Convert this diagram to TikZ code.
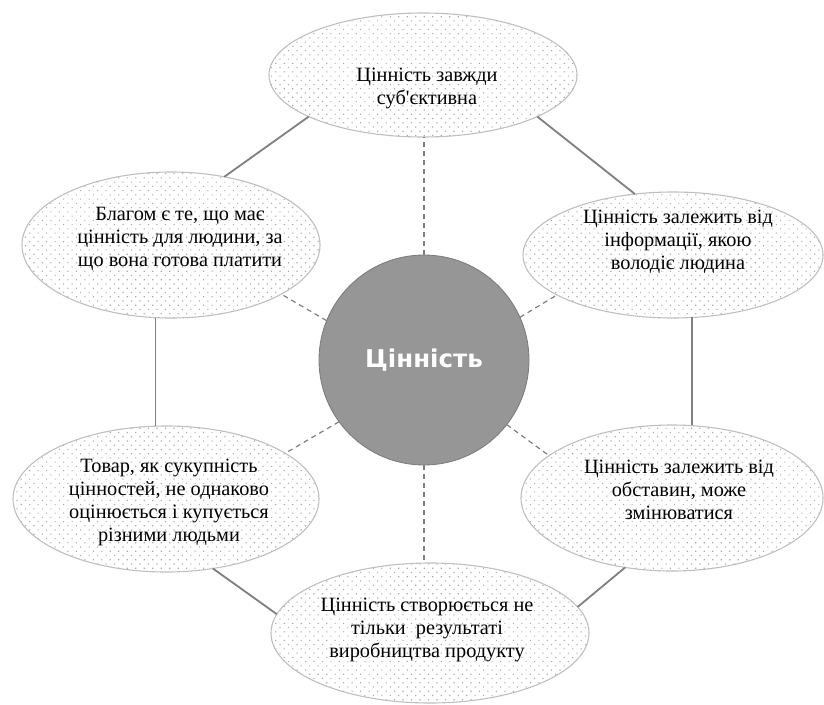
\documentclass[tikz,border=0pt]{standalone}
\usepackage{fontspec}
\setmainfont{Liberation Serif}
\newfontfamily\apos{Liberation Serif}
\newfontfamily\centerfont{DejaVu Sans}
\usetikzlibrary{shapes.geometric,patterns.meta}
\definecolor{ellborder}{HTML}{BFBFBF}
\definecolor{linegray}{HTML}{7F7F7F}
\definecolor{circfill}{HTML}{969696}
\definecolor{circborder}{HTML}{7A7A7A}
\definecolor{dotgray}{HTML}{ABABAB}
\begin{document}
\begin{tikzpicture}[x=1pt,y=-1pt,
  bubble/.style={ellipse, draw=ellborder, line width=1.1pt,
    pattern={Dots[distance=6pt,angle=45,radius=0.8pt]}, pattern color=dotgray,
    inner sep=0pt, outer sep=0pt},
  btext/.style={align=center, font=\fontsize{20.3}{23}\selectfont, text=black},
  solidlink/.style={draw=linegray, line width=1.8pt},
  dashlink/.style={draw=linegray, line width=1.2pt, dash pattern=on 5pt off 4pt},
]
\useasboundingbox (0,0) rectangle (824,704);

\node[bubble, minimum width=308pt, minimum height=124pt] (T) at (423,75) {};
\node[bubble, minimum width=298pt, minimum height=146pt] (UL) at (171,245) {};
\node[bubble, minimum width=300pt, minimum height=126pt] (UR) at (673,255) {};
\node[bubble, minimum width=306pt, minimum height=146pt] (LL) at (166,499) {};
\node[bubble, minimum width=302pt, minimum height=146pt] (LR) at (672,498) {};
\node[bubble, minimum width=318pt, minimum height=140pt] (B) at (430,633) {};

\node[circle, fill=circfill, draw=circborder, line width=0.8pt, minimum size=210pt,
  inner sep=0pt, outer sep=0pt, text=white,
  font=\centerfont\bfseries\fontsize{24.5}{28}\selectfont] (C) at (424,360) {Цінність};

\node[btext] (Tt) at (427,88) {Цінність завжди\\суб{\apos '}єктивна};
\node[btext] (ULt) at (180,239) {Благом є те, що має\\цінність для людини, за\\що вона готова платити};
\node[btext] (URt) at (678,242) {Цінність залежить від\\інформації, якою\\володіє людина};
\node[btext] (LLt) at (169,502) {Товар, як сукупність\\цінностей, не однаково\\оцінюється і купується\\різними людьми};
\node[btext] (LRt) at (679,490) {Цінність залежить від\\обставин, може\\змінюватися};
\node[btext] (Bt) at (427,630) {Цінність створюється не\\тільки~ результаті\\виробництва продукту};

\draw[solidlink] (T.200) -- (UL.52);
\draw[solidlink] (T.340) -- (UR.122);
\draw[solidlink] (UL.258) -- (UL.258 |- LL.north);
\draw[solidlink] (UR.287) -- (UR.287 |- LR.north);
\draw[solidlink] (LL.304) -- (B.173);
\draw[solidlink] (LR.236) -- (B.10);

\draw[dashlink] (C.north) -- (C.north |- T.south);
\draw[dashlink] (C.158) -- (UL.336);
\draw[dashlink] (C.24) -- (UR.199);
\draw[dashlink] (C.216) -- (LL.21);
\draw[dashlink] (C.322) -- (LR.161);
\draw[dashlink] (C.south) -- (C.south |- B.north);
\end{tikzpicture}
\end{document}
